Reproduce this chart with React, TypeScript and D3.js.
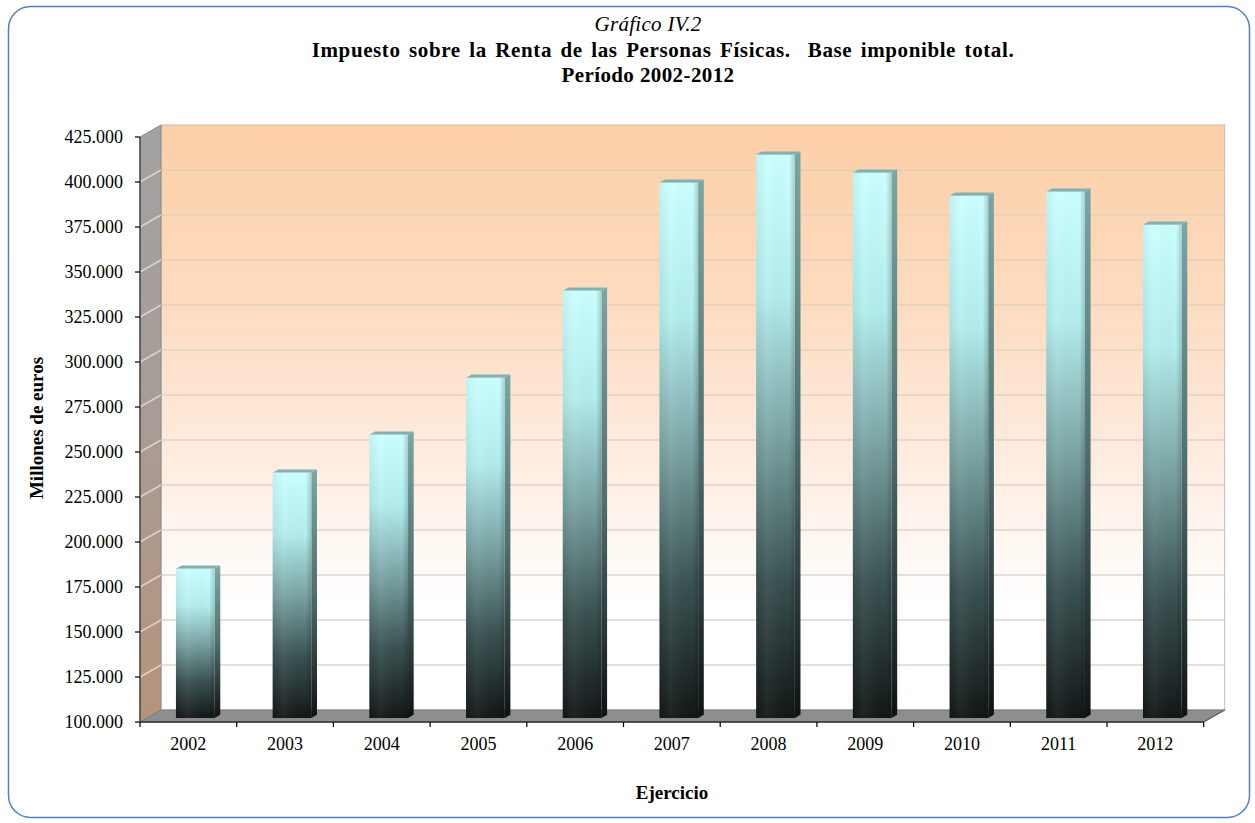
import React from "react";
import * as d3 from "d3";

const years = ["2002", "2003", "2004", "2005", "2006", "2007", "2008", "2009", "2010", "2011", "2012"];
const baseImponible = [182900, 236300, 257400, 289000, 337400, 397400, 412900, 402900, 390100, 392400, 374000];
const yTicks = [100000, 125000, 150000, 175000, 200000, 225000, 250000, 275000, 300000, 325000, 350000, 375000, 400000, 425000];
const titleLines = ["Gráfico IV.2", "Impuesto sobre la Renta de las Personas Físicas.  Base imponible total.", "Período 2002-2012"];
const yAxisTitle = "Millones de euros";
const xAxisTitle = "Ejercicio";

const W = 1255;
const H = 823;
const X0 = 140;
const X1 = 1203.7;
const Y0 = 722;
const Y1 = 137;
const DX = 21;
const DY = -12;
const F1 = 0.33;
const F2 = 0.6;
const serif = "'Liberation Serif', 'Times New Roman', Times, serif";

const locale = d3.formatLocale({ decimal: ",", thousands: ".", grouping: [3], currency: ["", "€"] });
const fmt = locale.format(",");

export default function App() {
  const y = d3.scaleLinear().domain([100000, 425000]).range([Y0, Y1]);
  const x = d3.scaleBand<string>().domain(years).range([X0, X1]).paddingInner(0.6).paddingOuter(0.3);
  const step = x.step();
  const bw = x.bandwidth();

  const fx = DX * F1, fy = DY * F1;
  const bx = DX * F2, by = DY * F2;

  const backL = X0 + DX, backR = X1 + DX, backT = Y1 + DY, backB = Y0 + DY;

  return (
    <svg width={W} height={H} style={{ position: "absolute", left: 0, top: 0, background: "#fff" }} xmlns="http://www.w3.org/2000/svg">
      <defs>
        <linearGradient id="wallGrad" x1="0" y1="0" x2="0" y2="1">
          <stop offset="0" stopColor="#fccfa7" />
          <stop offset="0.3" stopColor="#fddbbf" />
          <stop offset="0.6" stopColor="#feeee3" />
          <stop offset="0.82" stopColor="#ffffff" />
          <stop offset="1" stopColor="#ffffff" />
        </linearGradient>
        <linearGradient id="sideGrad" x1="0" y1="0" x2="0" y2="1">
          <stop offset="0" stopColor="#a2a2a2" />
          <stop offset="0.5" stopColor="#a89c96" />
          <stop offset="1" stopColor="#b6937a" />
        </linearGradient>
        <linearGradient id="barGrad" x1="0" y1="0" x2="0" y2="1">
          <stop offset="0" stopColor="#cbffff" />
          <stop offset="0.25" stopColor="#b3eded" />
          <stop offset="0.5" stopColor="#7aa3a3" />
          <stop offset="0.75" stopColor="#3a5252" />
          <stop offset="1" stopColor="#131717" />
        </linearGradient>
        <linearGradient id="barSideGrad" x1="0" y1="0" x2="0" y2="1">
          <stop offset="0" stopColor="#7aa6a6" />
          <stop offset="0.5" stopColor="#4f6e6e" />
          <stop offset="1" stopColor="#0e1212" />
        </linearGradient>
        <linearGradient id="barShade" x1="0" y1="0" x2="1" y2="0">
          <stop offset="0" stopColor="#000" stopOpacity="0.05" />
          <stop offset="0.3" stopColor="#fff" stopOpacity="0.05" />
          <stop offset="0.85" stopColor="#000" stopOpacity="0.0" />
          <stop offset="1" stopColor="#000" stopOpacity="0.18" />
        </linearGradient>
      </defs>

      <rect x={8.5} y={6.5} width={1241} height={811} rx={22} ry={22} fill="#fff" stroke="#4f81c7" strokeWidth={1.5} />

      <g fontFamily={serif} textAnchor="middle" fill="#000">
        <text x={648} y={31} fontSize={21} fontStyle="italic" letterSpacing={0.3}>{titleLines[0]}</text>
        <text x={663} y={57} fontSize={21} fontWeight="bold" letterSpacing={0.6} wordSpacing={2.7} style={{ whiteSpace: "pre" }}>{titleLines[1]}</text>
        <text x={648} y={82} fontSize={21} fontWeight="bold" letterSpacing={0.4}>{titleLines[2]}</text>
      </g>

      {/* back wall */}
      <rect x={backL} y={backT} width={backR - backL} height={backB - backT} fill="url(#wallGrad)" stroke="#bdbdbd" strokeWidth={1} />
      {yTicks.slice(1, -1).map((t) => (
        <line key={"g" + t} x1={backL} x2={backR} y1={y(t) + DY} y2={y(t) + DY} stroke="#e2cfc2" strokeWidth={1.5} opacity={0.9} />
      ))}

      {/* side wall */}
      <path d={`M${X0},${Y0} L${X0},${Y1} L${backL},${backT} L${backL},${backB} Z`} fill="url(#sideGrad)" stroke="#8a8a8a" strokeWidth={1} />
      {yTicks.slice(1, -1).map((t) => (
        <line key={"s" + t} x1={X0} x2={backL} y1={y(t)} y2={y(t) + DY} stroke="#e6dcd4" strokeWidth={1.5} opacity={0.85} />
      ))}

      {/* floor */}
      <path d={`M${X0},${Y0} L${backL},${backB} L${backR},${backB} L${X1},${Y0} Z`} fill="#8e8e8e" stroke="#7a7a7a" strokeWidth={1} />

      {/* bars */}
      {years.map((yr, i) => {
        const v = baseImponible[i];
        const left = (x(yr) as number) + fx;
        const right = left + bw;
        const top = y(v) + fy;
        const bottom = Y0 + fy;
        const sx = bx - fx, sy = by - fy;
        return (
          <g key={yr}>
            <path d={`M${right},${bottom} L${right},${top} L${right + sx},${top + sy} L${right + sx},${bottom + sy} Z`} fill="url(#barSideGrad)" />
            <path d={`M${left},${top} L${left + sx},${top + sy} L${right + sx},${top + sy} L${right},${top} Z`} fill="#86b0b0" />
            <rect x={left} y={top} width={bw} height={bottom - top} fill="url(#barGrad)" />
            <rect x={left} y={top} width={bw} height={bottom - top} fill="url(#barShade)" />
          </g>
        );
      })}

      {/* axes */}
      <line x1={X0} x2={X0} y1={Y1} y2={Y0} stroke="#333" strokeWidth={1.2} />
      <line x1={X0} x2={X1} y1={Y0} y2={Y0} stroke="#333" strokeWidth={1.5} />
      <line x1={X1} x2={X1 + DX} y1={Y0} y2={Y0 + DY} stroke="#555" strokeWidth={1} />
      {yTicks.map((t) => (
        <g key={"t" + t}>
          <line x1={X0 - 5} x2={X0} y1={y(t)} y2={y(t)} stroke="#000" strokeWidth={1.2} />
          <text x={123} y={y(t) + 6} fontFamily={serif} fontSize={18} textAnchor="end">{fmt(t)}</text>
        </g>
      ))}
      {d3.range(years.length + 1).map((i) => (
        <line key={"xt" + i} x1={X0 + i * step} x2={X0 + i * step} y1={Y0} y2={Y0 + 5} stroke="#000" strokeWidth={1.2} />
      ))}
      {years.map((yr) => (
        <text key={"xl" + yr} x={(x(yr) as number) + bw / 2} y={750} fontFamily={serif} fontSize={18} textAnchor="middle">{yr}</text>
      ))}

      <text x={672} y={799} fontFamily={serif} fontSize={19} fontWeight="bold" textAnchor="middle">{xAxisTitle}</text>
      <text transform="translate(43,428) rotate(-90)" fontFamily={serif} fontSize={19} fontWeight="bold" textAnchor="middle">{yAxisTitle}</text>
    </svg>
  );
}
